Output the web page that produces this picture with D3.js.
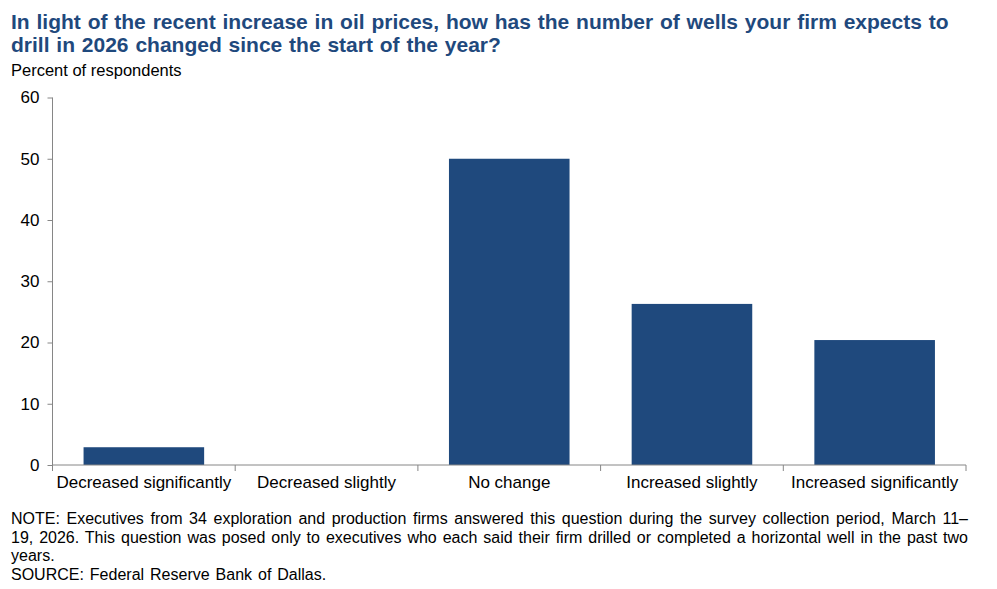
<!DOCTYPE html>
<html>
<head>
<meta charset="utf-8">
<script src="https://cdn.jsdelivr.net/npm/d3@7"></script>
<style>
  body { margin: 0; background: #fff; }
  svg { font-family: "Liberation Sans", Arial, sans-serif; }
</style>
</head>
<body>
<svg id="chart" width="997" height="589"></svg>
<script>
// data
var categories = ["Decreased significantly", "Decreased slightly", "No change", "Increased slightly", "Increased significantly"];
var values = [2.9, 0, 50.0, 26.3, 20.4];
var yTicks = [0, 10, 20, 30, 40, 50, 60];
var titleLines = ["In light of the recent increase in oil prices, how has the number of wells your firm expects to",
                  "drill in 2026 changed since the start of the year?"];
var noteLines = ["NOTE: Executives from 34 exploration and production firms answered this question during the survey collection period, March 11\u2013",
                 "19, 2026. This question was posed only to executives who each said their firm drilled or completed a horizontal well in the past two",
                 "years.",
                 "SOURCE: Federal Reserve Bank of Dallas."];

var svg = d3.select("#chart");
var pLeft = 52.5, pRight = 966, pTop = 97.5, pBottom = 465;

var x = d3.scaleBand().domain(categories).range([pLeft, pRight]).paddingInner(0.34).paddingOuter(0.17);
var xb = d3.scaleBand().domain(categories).range([pLeft, pRight]);
var y = d3.scaleLinear().domain([0, 60]).range([pBottom, pTop]);

// title
svg.selectAll(".title").data(titleLines).enter().append("text")
  .attr("class", "title")
  .attr("x", 11).attr("y", function (d, i) { return 29 + i * 23; })
  .style("font-size", "21px").style("font-weight", "bold").style("fill", "#1F497D")
  .style("word-spacing", "1px")
  .text(function (d) { return d; });

svg.append("text").attr("x", 11).attr("y", 76)
  .style("font-size", "16.5px").style("fill", "#000").text("Percent of respondents");

// bars
svg.selectAll(".bar").data(values).enter().append("rect")
  .attr("class", "bar")
  .attr("x", function (d, i) { return x(categories[i]); })
  .attr("width", x.bandwidth())
  .attr("y", function (d) { return y(d); })
  .attr("height", function (d) { return pBottom - y(d); })
  .style("fill", "#1F497D");

// y axis
var yAxis = svg.append("g").attr("transform", "translate(" + pLeft + ",0)")
  .call(d3.axisLeft(y).tickValues(yTicks).tickSize(5).tickPadding(8));
yAxis.select(".domain").attr("stroke", "#868686").attr("d", "M0," + pTop + "V" + pBottom);
yAxis.selectAll(".tick line").attr("stroke", "#868686");
yAxis.selectAll(".tick text").style("font-size", "17px").style("fill", "#000")
  .attr("font-family", "Liberation Sans, Arial, sans-serif");

// x axis
var xAxis = svg.append("g").attr("transform", "translate(0," + pBottom + ")")
  .call(d3.axisBottom(xb).tickSize(0).tickPadding(11));
xAxis.select(".domain").attr("stroke", "#868686").attr("d", "M" + pLeft + ",0H" + pRight);
xAxis.selectAll(".tick text").style("font-size", "17px").style("fill", "#000")
  .attr("font-family", "Liberation Sans, Arial, sans-serif");
var edges = categories.map(function (c) { return xb(c); }).concat([pRight]);
xAxis.selectAll(".sep").data(edges).enter().append("line")
  .attr("x1", function (d) { return d; }).attr("x2", function (d) { return d; })
  .attr("y1", 0).attr("y2", 6).attr("stroke", "#868686");

// notes, first two lines justified with word spacing
var notes = svg.selectAll(".note").data(noteLines).enter().append("text")
  .attr("class", "note")
  .attr("x", 11).attr("y", function (d, i) { return 524 + i * 18.7; })
  .style("font-size", "16px").style("fill", "#000")
  .style("word-spacing", "1.5px")
  .text(function (d) { return d; });
notes.each(function (d, i) {
  if (i > 1) return;
  var w = this.getComputedTextLength();
  var spaces = d.split(" ").length - 1;
  var extra = (957 - w) / spaces;
  d3.select(this).style("word-spacing", (1.5 + extra) + "px");
});
</script>
</body>
</html>
